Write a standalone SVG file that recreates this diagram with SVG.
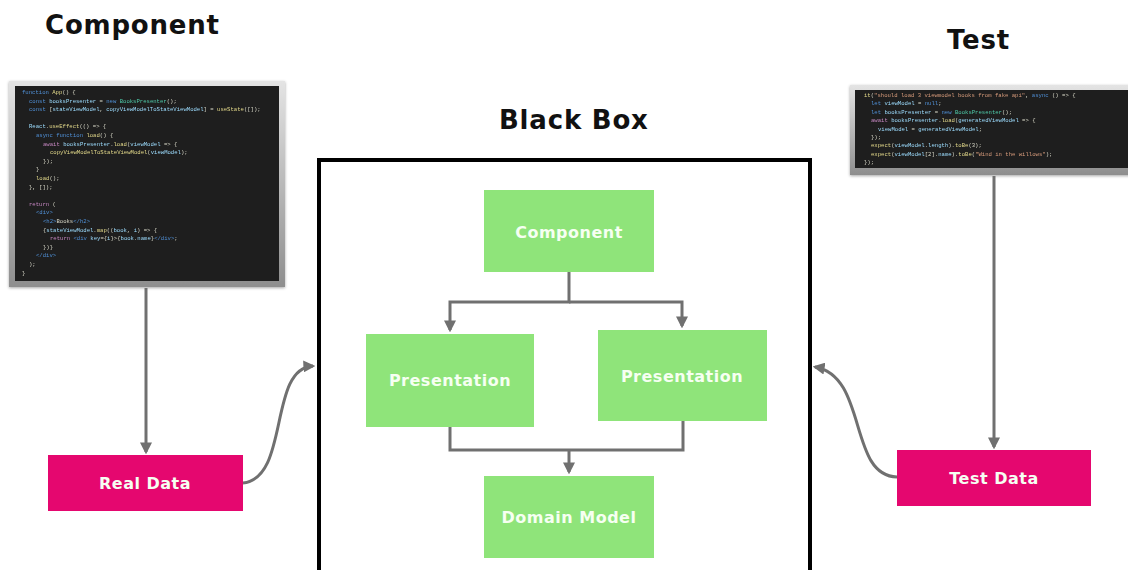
<svg xmlns="http://www.w3.org/2000/svg" width="1128" height="570" viewBox="0 0 1128 570">
  <defs>
    <linearGradient id="bezel" x1="0" y1="0" x2="0" y2="1">
      <stop offset="0" stop-color="#e4e4e4"/>
      <stop offset="0.5" stop-color="#b9b9b9"/>
      <stop offset="1" stop-color="#8e8e8e"/>
    </linearGradient>
    <filter id="soft" x="-5%" y="-5%" width="110%" height="110%">
      <feGaussianBlur stdDeviation="0.45"/>
    </filter>
    <filter id="shadow" x="-5%" y="-5%" width="110%" height="115%">
      <feDropShadow dx="0" dy="1" stdDeviation="1.5" flood-color="#000" flood-opacity="0.35"/>
    </filter>
    <marker id="arrow" viewBox="0 0 10 10" refX="8" refY="5" markerWidth="4" markerHeight="4" orient="auto">
      <path d="M0,0 L10,5 L0,10 z" fill="#707070"/>
    </marker>
  </defs>
  <style>
    .title { font-family: "DejaVu Sans", "Liberation Sans", sans-serif; font-weight: bold; font-size: 26px; fill: #111; letter-spacing: 0.8px; }
    .label { font-family: "DejaVu Sans", "Liberation Sans", sans-serif; font-weight: bold; font-size: 16px; fill: #f6fff2; text-anchor: middle; letter-spacing: 0.5px; }
    .green { fill: #8fe47a; }
    .pink { fill: #e5076f; }
    .conn { fill: none; stroke: #707070; stroke-width: 3; }
    .frame { fill: none; stroke: #000; stroke-width: 4; }
    .code { font-family: "Liberation Mono", "DejaVu Sans Mono", monospace; font-size: 5.6px; fill: #d8d8c8; }
    .kw { fill: #4f8fd6; }
    .fn { fill: #e3d98a; }
    .ty { fill: #4ec9a8; }
    .st { fill: #d69a7a; }
    .vr { fill: #9cdcfe; }
    .pu { fill: #c586c0; }
  </style>

  <!-- headings -->
  <text class="title" x="45" y="34">Component</text>
  <text class="title" x="947" y="49">Test</text>
  <text class="title" x="499" y="129">Black Box</text>

  <!-- black box outline, open at the bottom -->
  <path class="frame" d="M319,570 V160 H810 V570"/>

  <!-- component source screen; indentation levels are 7px apart -->
  <g id="component-code">
    <rect x="9" y="81" width="276" height="206" fill="url(#bezel)" filter="url(#shadow)"/>
    <rect x="15" y="86" width="264" height="195" fill="#1e1e1e"/>
    <g class="code" filter="url(#soft)">
      <text x="22" y="94"><tspan class="kw">function</tspan> <tspan class="fn">App</tspan>() {</text>
      <text x="29" y="102.6"><tspan class="kw">const</tspan> <tspan class="vr">booksPresenter</tspan> = <tspan class="kw">new</tspan> <tspan class="ty">BooksPresenter</tspan>();</text>
      <text x="29" y="111.2"><tspan class="kw">const</tspan> [<tspan class="vr">stateViewModel</tspan>, <tspan class="vr">copyViewModelToStateViewModel</tspan>] = <tspan class="fn">useState</tspan>([]);</text>
      <text x="29" y="128.4"><tspan class="vr">React</tspan>.<tspan class="fn">useEffect</tspan>(() =&gt; {</text>
      <text x="36" y="137"><tspan class="kw">async</tspan> <tspan class="kw">function</tspan> <tspan class="fn">load</tspan>() {</text>
      <text x="43" y="145.6"><tspan class="pu">await</tspan> <tspan class="vr">booksPresenter</tspan>.<tspan class="fn">load</tspan>(<tspan class="vr">viewModel</tspan> =&gt; {</text>
      <text x="50" y="154.2"><tspan class="fn">copyViewModelToStateViewModel</tspan>(<tspan class="vr">viewModel</tspan>);</text>
      <text x="43" y="162.8">});</text>
      <text x="36" y="171.4">}</text>
      <text x="36" y="180"><tspan class="fn">load</tspan>();</text>
      <text x="29" y="188.6">}, []);</text>
      <text x="29" y="205.8"><tspan class="pu">return</tspan> (</text>
      <text x="36" y="214.4"><tspan class="kw">&lt;div&gt;</tspan></text>
      <text x="43" y="223"><tspan class="kw">&lt;h2&gt;</tspan>Books<tspan class="kw">&lt;/h2&gt;</tspan></text>
      <text x="43" y="231.6">{<tspan class="vr">stateViewModel</tspan>.<tspan class="fn">map</tspan>((<tspan class="vr">book</tspan>, <tspan class="vr">i</tspan>) =&gt; {</text>
      <text x="50" y="240.2"><tspan class="pu">return</tspan> <tspan class="kw">&lt;div</tspan> <tspan class="vr">key</tspan>={<tspan class="vr">i</tspan>}&gt;{<tspan class="vr">book</tspan>.<tspan class="vr">name</tspan>}<tspan class="kw">&lt;/div&gt;</tspan>;</text>
      <text x="43" y="248.8">})}</text>
      <text x="36" y="257.4"><tspan class="kw">&lt;/div&gt;</tspan></text>
      <text x="29" y="266">);</text>
      <text x="22" y="274.6">}</text>
    </g>
  </g>

  <!-- test source screen -->
  <g id="test-code">
    <rect x="850" y="85" width="282" height="90" fill="url(#bezel)" filter="url(#shadow)"/>
    <rect x="855" y="90" width="277" height="78" fill="#1e1e1e"/>
    <g class="code" filter="url(#soft)">
      <text x="864" y="97"><tspan class="fn">it</tspan>(<tspan class="st">"should load 3 viewmodel books from fake api"</tspan>, <tspan class="kw">async</tspan> () =&gt; {</text>
      <text x="871" y="105.4"><tspan class="kw">let</tspan> <tspan class="vr">viewModel</tspan> = <tspan class="kw">null</tspan>;</text>
      <text x="871" y="113.8"><tspan class="kw">let</tspan> <tspan class="vr">booksPresenter</tspan> = <tspan class="kw">new</tspan> <tspan class="ty">BooksPresenter</tspan>();</text>
      <text x="871" y="122.2"><tspan class="pu">await</tspan> <tspan class="vr">booksPresenter</tspan>.<tspan class="fn">load</tspan>(<tspan class="vr">generatedViewModel</tspan> =&gt; {</text>
      <text x="878" y="130.6"><tspan class="vr">viewModel</tspan> = <tspan class="vr">generatedViewModel</tspan>;</text>
      <text x="871" y="139">});</text>
      <text x="871" y="147.4"><tspan class="fn">expect</tspan>(<tspan class="vr">viewModel</tspan>.<tspan class="vr">length</tspan>).<tspan class="fn">toBe</tspan>(3);</text>
      <text x="871" y="155.8"><tspan class="fn">expect</tspan>(<tspan class="vr">viewModel</tspan>[2].<tspan class="vr">name</tspan>).<tspan class="fn">toBe</tspan>(<tspan class="st">"Wind in the willows"</tspan>);</text>
      <text x="864" y="164.2">});</text>
    </g>
  </g>

  <!-- connectors -->
  <g id="connectors">
    <path class="conn" d="M146,288 V452" marker-end="url(#arrow)"/>
    <path class="conn" d="M994,176 V447" marker-end="url(#arrow)"/>
    <path class="conn" d="M243,483 C290,478 268,368 313,366" marker-end="url(#arrow)"/>
    <path class="conn" d="M897,477 C848,476 868,376 815,367" marker-end="url(#arrow)"/>
    <path class="conn" d="M569,272 V302 H450 V330" marker-end="url(#arrow)"/>
    <path class="conn" d="M569,302 H682 V326" marker-end="url(#arrow)"/>
    <path class="conn" d="M450,427 V450 H683 V421"/>
    <path class="conn" d="M569,450 V472" marker-end="url(#arrow)"/>
  </g>

  <g id="node-component">
    <rect class="green" x="484" y="190" width="170" height="82"/>
    <text class="label" x="569" y="238">Component</text>
  </g>
  <g id="node-presentation-left">
    <rect class="green" x="366" y="334" width="168" height="93"/>
    <text class="label" x="450" y="386">Presentation</text>
  </g>
  <g id="node-presentation-right">
    <rect class="green" x="598" y="330" width="169" height="91"/>
    <text class="label" x="682" y="382">Presentation</text>
  </g>
  <g id="node-domain-model">
    <rect class="green" x="484" y="476" width="170" height="82"/>
    <text class="label" x="569" y="523">Domain Model</text>
  </g>
  <g id="node-real-data">
    <rect class="pink" x="48" y="455" width="195" height="56"/>
    <text class="label" x="145" y="489">Real Data</text>
  </g>
  <g id="node-test-data">
    <rect class="pink" x="897" y="450" width="194" height="56"/>
    <text class="label" x="994" y="484">Test Data</text>
  </g>
</svg>
